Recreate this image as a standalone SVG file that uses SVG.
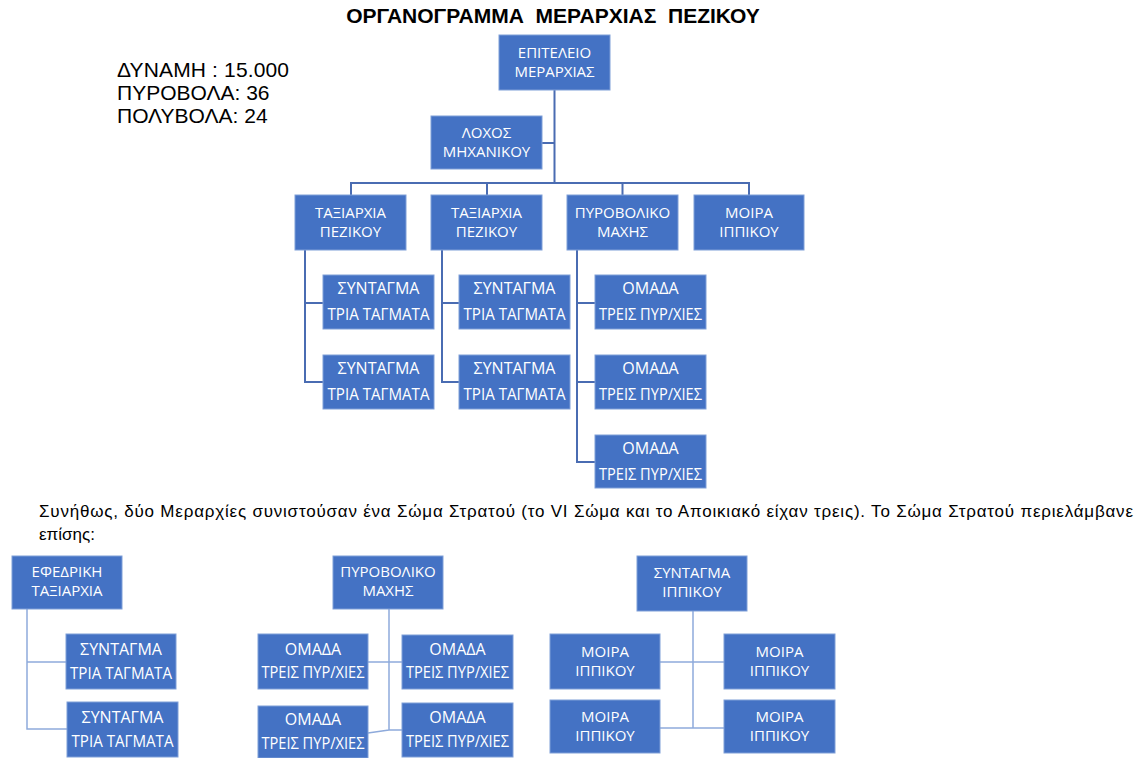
<svg xmlns="http://www.w3.org/2000/svg" width="1138" height="758" viewBox="0 0 1138 758">
<style>
.b{fill:#4472C4;stroke:#7f9fd8;stroke-width:1}
.t{font-family:"Open Sans","Noto Sans",sans-serif;fill:#ffffff;text-anchor:middle;font-size:15px}
.s{font-size:16px}
.k{font-family:"Liberation Sans",Arial,sans-serif;fill:#000000}
.c1{fill:none;stroke:#4a6cb2;stroke-width:2}
.c2{fill:none;stroke:#8eaadb;stroke-width:1.5}
</style>
<rect width="1138" height="758" fill="#ffffff"/>
<text class="k" x="553" y="23" font-size="21" font-weight="bold" text-anchor="middle" xml:space="preserve">ΟΡΓΑΝΟΓΡΑΜΜΑ  ΜΕΡΑΡΧΙΑΣ  ΠΕΖΙΚΟΥ</text>
<g id="stats" class="k" font-size="21">
<text x="117" y="77" textLength="172" lengthAdjust="spacing">ΔΥΝΑΜΗ : 15.000</text>
<text x="117" y="100">ΠΥΡΟΒΟΛΑ: 36</text>
<text x="117" y="123">ΠΟΛΥΒΟΛΑ: 24</text>
</g>
<g id="para" class="k" font-size="17">
<text x="39" y="517" textLength="1094" lengthAdjust="spacing">Συνήθως, δύο Μεραρχίες συνιστούσαν ένα Σώμα Στρατού (το VI Σώμα και το Αποικιακό είχαν τρεις). Το Σώμα Στρατού περιελάμβανε</text>
<text x="39" y="540">επίσης:</text>
</g>
<g id="connectors">
<path class="c1" d="M554.5 90V183M542 143H554.5M351 195V183H749V195M487 183V195M622.5 183V195"/>
<path class="c1" d="M305 250V382H323M305 303H323"/>
<path class="c1" d="M442 250V382H459M442 303H459"/>
<path class="c1" d="M577 250V462H595M577 303H595M577 382H595"/>
<path class="c2" d="M27 609V729H67M27 662H66"/>
<path class="c2" d="M389 609V730H402M368 662H402M368 733L389 730"/>
<path class="c2" d="M693 611V728H724M660 662H724M660 728H693"/>
</g>
<g id="n-epiteleio"><rect class="b" x="499" y="35" width="111" height="55"/><text class="t" x="554.5" y="58">ΕΠΙΤΕΛΕΙΟ</text><text class="t" x="554.5" y="77">ΜΕΡΑΡΧΙΑΣ</text></g>
<g id="n-lochos"><rect class="b" x="431" y="116" width="111" height="53"/><text class="t" x="486.5" y="138">ΛΟΧΟΣ</text><text class="t" x="486.5" y="157">ΜΗΧΑΝΙΚΟΥ</text></g>
<g id="n-tax1"><rect class="b" x="295" y="195" width="111" height="55"/><text class="t" x="350.5" y="218">ΤΑΞΙΑΡΧΙΑ</text><text class="t" x="350.5" y="237">ΠΕΖΙΚΟΥ</text></g>
<g id="n-tax2"><rect class="b" x="431" y="195" width="111" height="55"/><text class="t" x="486.5" y="218">ΤΑΞΙΑΡΧΙΑ</text><text class="t" x="486.5" y="237">ΠΕΖΙΚΟΥ</text></g>
<g id="n-pyr"><rect class="b" x="567" y="195" width="111" height="55"/><text class="t" x="622.5" y="218">ΠΥΡΟΒΟΛΙΚΟ</text><text class="t" x="622.5" y="237">ΜΑΧΗΣ</text></g>
<g id="n-moira"><rect class="b" x="694" y="195" width="110" height="55"/><text class="t" x="749" y="218">ΜΟΙΡΑ</text><text class="t" x="749" y="237">ΙΠΠΙΚΟΥ</text></g>
<g id="n-s11"><rect class="b" x="323" y="275" width="111" height="54"/><text class="t s" x="378.5" y="294">ΣΥΝΤΑΓΜΑ</text><text class="t s" x="378.5" y="320" textLength="102" lengthAdjust="spacingAndGlyphs">ΤΡΙΑ ΤΑΓΜΑΤΑ</text></g>
<g id="n-s12"><rect class="b" x="323" y="355" width="111" height="54"/><text class="t s" x="378.5" y="374">ΣΥΝΤΑΓΜΑ</text><text class="t s" x="378.5" y="400" textLength="102" lengthAdjust="spacingAndGlyphs">ΤΡΙΑ ΤΑΓΜΑΤΑ</text></g>
<g id="n-s21"><rect class="b" x="459" y="275" width="111" height="54"/><text class="t s" x="514.5" y="294">ΣΥΝΤΑΓΜΑ</text><text class="t s" x="514.5" y="320" textLength="102" lengthAdjust="spacingAndGlyphs">ΤΡΙΑ ΤΑΓΜΑΤΑ</text></g>
<g id="n-s22"><rect class="b" x="459" y="355" width="111" height="54"/><text class="t s" x="514.5" y="374">ΣΥΝΤΑΓΜΑ</text><text class="t s" x="514.5" y="400" textLength="102" lengthAdjust="spacingAndGlyphs">ΤΡΙΑ ΤΑΓΜΑΤΑ</text></g>
<g id="n-o1"><rect class="b" x="595" y="275" width="111" height="54"/><text class="t s" x="650.5" y="294">ΟΜΑΔΑ</text><text class="t s" x="650.5" y="320" textLength="103" lengthAdjust="spacingAndGlyphs">ΤΡΕΙΣ ΠΥΡ/ΧΙΕΣ</text></g>
<g id="n-o2"><rect class="b" x="595" y="355" width="111" height="54"/><text class="t s" x="650.5" y="374">ΟΜΑΔΑ</text><text class="t s" x="650.5" y="400" textLength="103" lengthAdjust="spacingAndGlyphs">ΤΡΕΙΣ ΠΥΡ/ΧΙΕΣ</text></g>
<g id="n-o3"><rect class="b" x="595" y="435" width="111" height="53"/><text class="t s" x="650.5" y="454">ΟΜΑΔΑ</text><text class="t s" x="650.5" y="480" textLength="103" lengthAdjust="spacingAndGlyphs">ΤΡΕΙΣ ΠΥΡ/ΧΙΕΣ</text></g>
<g id="n-efedriki"><rect class="b" x="12" y="556" width="110" height="53"/><text class="t" x="67" y="577">ΕΦΕΔΡΙΚΗ</text><text class="t" x="67" y="596">ΤΑΞΙΑΡΧΙΑ</text></g>
<g id="n-es1"><rect class="b" x="66" y="634" width="110" height="55"/><text class="t s" x="121" y="655">ΣΥΝΤΑΓΜΑ</text><text class="t s" x="121" y="679" textLength="102" lengthAdjust="spacingAndGlyphs">ΤΡΙΑ ΤΑΓΜΑΤΑ</text></g>
<g id="n-es2"><rect class="b" x="67" y="702" width="111" height="55"/><text class="t s" x="122.5" y="723">ΣΥΝΤΑΓΜΑ</text><text class="t s" x="122.5" y="747" textLength="102" lengthAdjust="spacingAndGlyphs">ΤΡΙΑ ΤΑΓΜΑΤΑ</text></g>
<g id="n-pyr2"><rect class="b" x="333" y="556" width="110" height="53"/><text class="t" x="388" y="577">ΠΥΡΟΒΟΛΙΚΟ</text><text class="t" x="388" y="596">ΜΑΧΗΣ</text></g>
<g id="n-po1"><rect class="b" x="258" y="634" width="110" height="55"/><text class="t s" x="313" y="655">ΟΜΑΔΑ</text><text class="t s" x="313" y="678" textLength="103" lengthAdjust="spacingAndGlyphs">ΤΡΕΙΣ ΠΥΡ/ΧΙΕΣ</text></g>
<g id="n-po2"><rect class="b" x="402" y="635" width="111" height="54"/><text class="t s" x="457.5" y="655">ΟΜΑΔΑ</text><text class="t s" x="457.5" y="678" textLength="103" lengthAdjust="spacingAndGlyphs">ΤΡΕΙΣ ΠΥΡ/ΧΙΕΣ</text></g>
<g id="n-po3"><rect class="b" x="258" y="706" width="110" height="52"/><text class="t s" x="313" y="725">ΟΜΑΔΑ</text><text class="t s" x="313" y="749" textLength="103" lengthAdjust="spacingAndGlyphs">ΤΡΕΙΣ ΠΥΡ/ΧΙΕΣ</text></g>
<g id="n-po4"><rect class="b" x="402" y="703" width="111" height="54"/><text class="t s" x="457.5" y="723">ΟΜΑΔΑ</text><text class="t s" x="457.5" y="747" textLength="103" lengthAdjust="spacingAndGlyphs">ΤΡΕΙΣ ΠΥΡ/ΧΙΕΣ</text></g>
<g id="n-sipp"><rect class="b" x="637" y="556" width="110" height="55"/><text class="t" x="692" y="578">ΣΥΝΤΑΓΜΑ</text><text class="t" x="692" y="597">ΙΠΠΙΚΟΥ</text></g>
<g id="n-m1"><rect class="b" x="550" y="634" width="110" height="55"/><text class="t" x="605" y="657">ΜΟΙΡΑ</text><text class="t" x="605" y="676">ΙΠΠΙΚΟΥ</text></g>
<g id="n-m2"><rect class="b" x="724" y="634" width="111" height="55"/><text class="t" x="779.5" y="657">ΜΟΙΡΑ</text><text class="t" x="779.5" y="676">ΙΠΠΙΚΟΥ</text></g>
<g id="n-m3"><rect class="b" x="550" y="700" width="110" height="53"/><text class="t" x="605" y="722">ΜΟΙΡΑ</text><text class="t" x="605" y="741">ΙΠΠΙΚΟΥ</text></g>
<g id="n-m4"><rect class="b" x="724" y="700" width="111" height="53"/><text class="t" x="779.5" y="722">ΜΟΙΡΑ</text><text class="t" x="779.5" y="741">ΙΠΠΙΚΟΥ</text></g>
</svg>
